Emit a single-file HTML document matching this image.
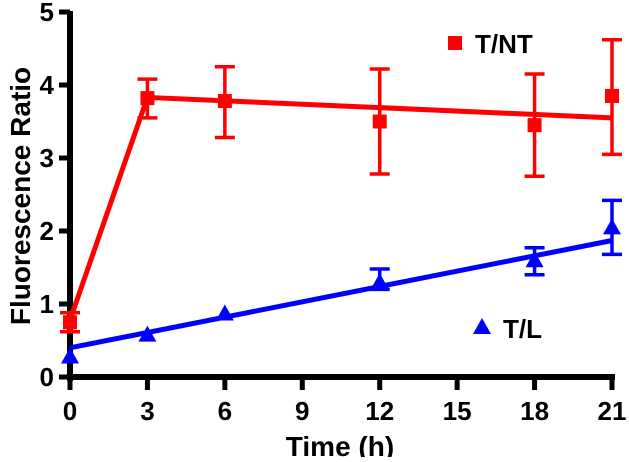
<!DOCTYPE html>
<html><head><meta charset="utf-8"><style>
body{margin:0;background:#fff}
svg text{font-family:"Liberation Sans Narrow","Liberation Sans",sans-serif;font-weight:bold}
</style></head><body>
<svg id="c" width="629" height="457"></svg>
<script>
const times=[0,3,6,12,18,21];
const tntMean=[0.75,3.82,3.78,3.5,3.45,3.85];
const tntLo=[0.62,3.55,3.28,2.78,2.75,3.05];
const tntHi=[0.88,4.08,4.25,4.22,4.15,4.62];
const tntFit=[[0,0.78],[3,3.83],[21,3.55]];
const tlMean=[0.28,0.58,0.87,1.3,1.6,2.05];
const tlLo=[0.28,0.58,0.87,1.2,1.4,1.68];
const tlHi=[0.28,0.58,0.87,1.48,1.77,2.42];
const tlFit=[[0,0.4],[21,1.87]];
const xTicks=[0,3,6,9,12,15,18,21];
const yTicks=[0,1,2,3,4,5];
const NS="http://www.w3.org/2000/svg",svg=document.getElementById('c');
const X=v=>70+v*(542/21),Y=v=>377-v*73;
function mk(t,a,txt){const e=document.createElementNS(NS,t);for(const k in a)e.setAttribute(k,a[k]);if(txt!=null)e.textContent=txt;svg.appendChild(e);return e;}
let e;
e=mk('line',{x1:70,y1:11,x2:70,y2:381,stroke:'#000','stroke-width':6});

e=mk('line',{x1:67,y1:377,x2:615,y2:377,stroke:'#000','stroke-width':6});

yTicks.forEach(v=>{
 e=mk('line',{x1:59,y1:Y(v),x2:70,y2:Y(v),stroke:'#000','stroke-width':5});
 
 e=mk('text',{x:54,y:Y(v)+9,'text-anchor':'end','font-size':26},v);
 
});
xTicks.forEach(v=>{
 e=mk('line',{x1:X(v),y1:377,x2:X(v),y2:390,stroke:'#000','stroke-width':5});
 
 e=mk('text',{x:X(v),y:420,'text-anchor':'middle','font-size':26},v);
 
});
e=mk('text',{x:340,y:456,'text-anchor':'middle','font-size':28},'Time (h)');

e=mk('text',{x:0,y:0,'text-anchor':'middle','font-size':28,transform:'translate(30,196) rotate(-90)'},'Fluorescence Ratio');

function series(mean,lo,hi,fit,col,shape,name){
 e=mk('polyline',{points:fit.map(p=>X(p[0])+','+Y(p[1])).join(' '),fill:'none',stroke:col,'stroke-width':5});
 
 times.forEach((t,i)=>{
  const x=X(t);
  if(hi[i]-lo[i]>0.05){
   e=mk('path',{d:`M${x},${Y(lo[i])}V${Y(hi[i])}M${x-10},${Y(lo[i])}H${x+10}M${x-10},${Y(hi[i])}H${x+10}`,stroke:col,'stroke-width':3.5,fill:'none'});
   
  }
  const y=Y(mean[i]);
  if(shape==='sq')e=mk('rect',{x:x-7,y:y-7,width:14,height:14,fill:col});
  else e=mk('polygon',{points:`${x},${y-9} ${x-9},${y+7} ${x+9},${y+7}`,fill:col});
  
 });
}
series(tntMean,tntLo,tntHi,tntFit,'#f00','sq','tnt');
series(tlMean,tlLo,tlHi,tlFit,'#00f','tri','tl');
e=mk('rect',{x:448,y:36,width:14,height:14,fill:'#f00'});

e=mk('text',{x:475,y:53,'font-size':26},'T/NT');

e=mk('polygon',{points:'482,318 473,334 491,334',fill:'#00f'});

e=mk('text',{x:503,y:338,'font-size':26},'T/L');

</script>
</body></html>
